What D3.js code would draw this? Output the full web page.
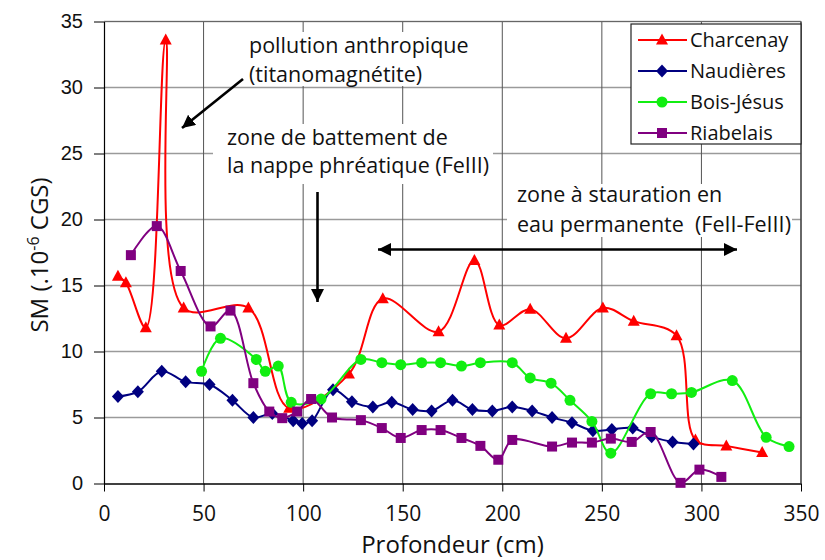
<!DOCTYPE html>
<html><head><meta charset="utf-8">
<script src="https://cdn.jsdelivr.net/npm/d3@7"></script>
<style>
html,body{margin:0;padding:0;background:#fff;}
svg{display:block;}
</style></head>
<body>
<svg id="chart" width="825" height="560"></svg>
<script>
// ---- data ----
const charcenayX = [7, 11, 21, 31, 40, 72.5, 93, 123, 140, 168, 186, 198.5, 214, 232, 250.5, 266, 287.5, 297, 312.5, 330.5];
const charcenayY = [15.7, 15.2, 11.8, 33.6, 13.3, 13.3, 5.7, 8.3, 14.0, 11.5, 16.9, 12.0, 13.2, 11.0, 13.3, 12.3, 11.2, 3.3, 2.85, 2.35];

const naudieresX = [7, 17, 29, 41, 53, 64.5, 75, 84.5, 95, 99.5, 104.5, 115, 124.5, 135, 144.5, 155, 164.5, 175, 185, 195, 205, 215, 225, 235, 245.5, 255, 265.5, 275, 285.5, 296];
const naudieresY = [6.6, 6.95, 8.5, 7.7, 7.5, 6.3, 5.0, 5.3, 4.75, 4.55, 4.75, 7.1, 6.2, 5.8, 6.15, 5.6, 5.5, 6.3, 5.6, 5.5, 5.8, 5.5, 5.0, 4.6, 4.0, 4.1, 4.2, 3.55, 3.15, 3.0];

const boisJesusX = [49, 58.5, 76.5, 81, 87.5, 94, 109, 129, 139.5, 149, 159.5, 169, 179.5, 189, 205, 214, 224.5, 234, 245, 254.5, 274.5, 285, 295, 315.5, 332.5, 344];
const boisJesusY = [8.5, 11.0, 9.4, 8.5, 8.9, 6.15, 6.4, 9.4, 9.15, 9.0, 9.15, 9.15, 8.9, 9.15, 9.15, 8.0, 7.6, 6.3, 4.7, 2.3, 6.8, 6.8, 6.9, 7.8, 3.5, 2.8];

const riabelaisX = [13.5, 26.5, 38.5, 53.5, 63.5, 75, 83, 89.5, 97, 104, 114.5, 129, 139.5, 149, 159.5, 169, 179.5, 189, 198, 205, 225, 235, 245, 254.5, 265, 274.5, 289.5, 299, 310];
const riabelaisY = [17.3, 19.5, 16.1, 11.9, 13.1, 7.6, 5.45, 4.95, 5.45, 6.4, 5.0, 4.8, 4.2, 3.45, 4.05, 4.05, 3.45, 2.85, 1.8, 3.3, 2.8, 3.1, 3.1, 3.4, 3.15, 3.9, 0.05, 1.05, 0.5];

const seriesNames = ["Charcenay", "Naudières", "Bois-Jésus", "Riabelais"];
const xTicks = [0, 50, 100, 150, 200, 250, 300, 350];
const yTicks = [0, 5, 10, 15, 20, 25, 30, 35];

// ---- setup ----
const svg = d3.select("#chart");
const x = d3.scaleLinear().domain([0, 350]).range([104, 801]);
const y = d3.scaleLinear().domain([0, 35]).range([483.5, 21.5]);

const series = [
  {name: seriesNames[0], xs: charcenayX, ys: charcenayY, color: "#ff0000", shape: "triangle"},
  {name: seriesNames[1], xs: naudieresX, ys: naudieresY, color: "#000080", shape: "diamond"},
  {name: seriesNames[2], xs: boisJesusX, ys: boisJesusY, color: "#11ee11", shape: "circle"},
  {name: seriesNames[3], xs: riabelaisX, ys: riabelaisY, color: "#800080", shape: "square"}
];

const humanist = "'Open Sans', 'Noto Sans', sans-serif";

// gridlines
const grid = svg.append("g");
grid.selectAll("line.h").data(yTicks.slice(1)).join("line")
  .attr("x1", x(0)).attr("x2", x(350))
  .attr("y1", d => y(d)).attr("y2", d => y(d))
  .attr("stroke", "#9a9a9a").attr("stroke-width", 1.4);
grid.selectAll("line.v").data(xTicks.slice(1)).join("line")
  .attr("y1", y(0)).attr("y2", y(35))
  .attr("x1", d => x(d)).attr("x2", d => x(d))
  .attr("stroke", "#555").attr("stroke-width", 1);

// annotation boxes (white background)
const boxes = [
  [245, 32, 228, 54],
  [213, 124, 280, 60],
  [507, 184, 285, 53]
];
svg.append("g").selectAll("rect").data(boxes).join("rect")
  .attr("x", d => d[0]).attr("y", d => d[1]).attr("width", d => d[2]).attr("height", d => d[3])
  .attr("fill", "#fff");

// axes
const yAxis = d3.axisLeft(y).tickValues(yTicks).tickSizeInner(10).tickSizeOuter(0).tickPadding(11);
const gy = svg.append("g").attr("transform", `translate(${x(0)},0)`).call(yAxis);
gy.selectAll("text").attr("font-family", "'Liberation Sans', Arial, sans-serif").attr("font-size", 20).attr("fill", "#111");
gy.select(".domain").attr("stroke", "#000").attr("stroke-width", 1.2);
gy.selectAll(".tick line").attr("stroke", "#000");

const xAxis = d3.axisBottom(x).tickValues(xTicks).tickSizeInner(8).tickSizeOuter(0).tickPadding(15);
const gx = svg.append("g").attr("transform", `translate(0,${y(0)})`).call(xAxis);
gx.selectAll("text").attr("font-family", humanist).attr("font-size", 21).attr("fill", "#111");
gx.select(".domain").attr("stroke", "#000").attr("stroke-width", 1.6);
gx.selectAll(".tick line").attr("stroke", "#000");

// plot frame right/top
svg.append("line").attr("x1", x(350)).attr("x2", x(350)).attr("y1", y(0)).attr("y2", y(35)).attr("stroke", "#444").attr("stroke-width", 1.3);
svg.append("line").attr("x1", x(0)).attr("x2", x(350)).attr("y1", y(35)).attr("y2", y(35)).attr("stroke", "#666").attr("stroke-width", 1.2);

// axis titles
svg.append("text").attr("x", (x(0) + x(350)) / 2).attr("y", 553).attr("text-anchor", "middle")
  .attr("font-family", humanist).attr("font-size", 24).attr("fill", "#111").text("Profondeur (cm)");
const yt = svg.append("text").attr("transform", "translate(48,255) rotate(-90)").attr("text-anchor", "middle")
  .attr("font-family", humanist).attr("font-size", 24).attr("fill", "#111");
yt.append("tspan").text("SM (.10");
yt.append("tspan").attr("dy", -9).attr("font-size", 16).text("-6");
yt.append("tspan").attr("dy", 9).text(" CGS)");

// marker helper
function marker(sel, shape, color) {
  if (shape === "triangle") {
    sel.append("path").attr("d", "M0,-6.5L6,4.5L-6,4.5Z").attr("fill", color);
  } else if (shape === "diamond") {
    sel.append("path").attr("d", "M0,-6.5L6,0L0,6.5L-6,0Z").attr("fill", color);
  } else if (shape === "circle") {
    sel.append("circle").attr("r", 5.5).attr("fill", color);
  } else {
    sel.append("rect").attr("x", -5).attr("y", -5).attr("width", 10).attr("height", 10).attr("fill", color);
  }
}

// series
const line = d3.line().x(d => x(d[0])).y(d => y(d[1])).curve(d3.curveCatmullRom.alpha(0.5));
series.forEach(s => {
  const pts = s.xs.map((v, i) => [v, s.ys[i]]);
  const g = svg.append("g");
  g.append("path").attr("d", line(pts)).attr("fill", "none").attr("stroke", s.color).attr("stroke-width", 2);
  g.selectAll("g.m").data(pts).join("g").attr("transform", d => `translate(${x(d[0])},${y(d[1])})`)
    .each(function() { marker(d3.select(this), s.shape, s.color); });
});

// annotations
const ann = svg.append("g").attr("font-family", humanist).attr("font-size", 21.5).attr("fill", "#111");
ann.append("text").attr("x", 249).attr("y", 53).text("pollution anthropique");
ann.append("text").attr("x", 249).attr("y", 82).text("(titanomagnétite)");
ann.append("text").attr("x", 227).attr("y", 145).text("zone de battement de");
ann.append("text").attr("x", 227).attr("y", 173).text("la nappe phréatique (FeIII)");
ann.append("text").attr("x", 517).attr("y", 202).text("zone à stauration en");
ann.append("text").attr("x", 517).attr("y", 232).text("eau permanente\u00a0\u00a0(FeII-FeIII)");

// arrows
const defs = svg.append("defs");
defs.append("marker").attr("id", "ah").attr("viewBox", "0 0 10 10").attr("refX", 10).attr("refY", 5)
  .attr("markerWidth", 5).attr("markerHeight", 5).attr("orient", "auto-start-reverse").attr("markerUnits", "strokeWidth")
  .append("path").attr("d", "M0,0L10,5L0,10Z").attr("fill", "#000");
svg.append("line").attr("x1", 243).attr("y1", 79).attr("x2", 182).attr("y2", 128)
  .attr("stroke", "#000").attr("stroke-width", 2.6).attr("marker-end", "url(#ah)");
svg.append("line").attr("x1", 317.5).attr("y1", 192).attr("x2", 317.5).attr("y2", 302)
  .attr("stroke", "#000").attr("stroke-width", 2.6).attr("marker-end", "url(#ah)");
svg.append("line").attr("x1", 378).attr("y1", 249.5).attr("x2", 737).attr("y2", 249.5)
  .attr("stroke", "#000").attr("stroke-width", 2.6).attr("marker-end", "url(#ah)").attr("marker-start", "url(#ah)");

// legend
const lg = svg.append("g");
lg.append("rect").attr("x", 631).attr("y", 24).attr("width", 170).attr("height", 120)
  .attr("fill", "#fff").attr("stroke", "#222").attr("stroke-width", 1.2);
series.forEach((s, i) => {
  const cy = 40 + i * 31;
  lg.append("line").attr("x1", 638).attr("x2", 687).attr("y1", cy).attr("y2", cy).attr("stroke", s.color).attr("stroke-width", 2);
  const m = lg.append("g").attr("transform", `translate(662,${cy})`);
  marker(m, s.shape, s.color);
  lg.append("text").attr("x", 690).attr("y", cy + 7).attr("font-family", humanist).attr("font-size", 20).attr("fill", "#111").text(s.name);
});
</script>
</body></html>
